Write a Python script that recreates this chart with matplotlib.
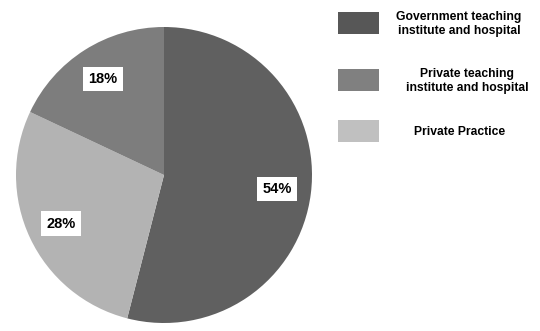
import matplotlib.pyplot as plt
from matplotlib.patches import Rectangle

labels = ["Government teaching\ninstitute and hospital",
          "Private Practice",
          "Private teaching\ninstitute and hospital"]
shares = [54, 28, 18]
colors = ["#606060", "#b3b3b3", "#7d7d7d"]

# legend order differs from pie order
legend_order = [0, 2, 1]
legend_colors = ["#575757", "#808080", "#c0c0c0"]

fig = plt.figure(figsize=(5.4, 3.31), dpi=100)
ax = fig.add_axes([16 / 540, 8 / 331, 296 / 540, 296 / 331])

wedges, texts, autotexts = ax.pie(
    shares, colors=colors, startangle=90, counterclock=False,
    autopct="%d%%", pctdistance=0.77,
    wedgeprops=dict(linewidth=0),
)
for t in autotexts:
    t.set_fontfamily(["Liberation Sans", "DejaVu Sans"])
    t.set_fontweight("bold")
    t.set_fontsize(10.5)
    t.set_color("black")
    t.set_bbox(dict(facecolor="white", edgecolor="none", boxstyle="square,pad=0.35"))
ax.set_xlim(-1, 1)
ax.set_ylim(-1, 1)
ax.set_aspect("equal")

# hand-built legend: swatch box and centred label per row
W, H = 540, 331
row_y = [23, 80, 131]
text_x = [459, 467, 460]
for k, i in enumerate(legend_order):
    fig.add_artist(Rectangle((338 / W, 1 - (row_y[k] + 11) / H), 41 / W, 22 / H,
                             transform=fig.transFigure, facecolor=legend_colors[k],
                             edgecolor="none"))
    fig.text(text_x[k] / W, 1 - (row_y[k] + 1) / H, labels[i], ha="center", va="center",
             multialignment="center", fontsize=8.7, fontweight="bold",
             family=["Liberation Sans", "DejaVu Sans"], linespacing=1.25)

fig.savefig("out.png", dpi=100)
